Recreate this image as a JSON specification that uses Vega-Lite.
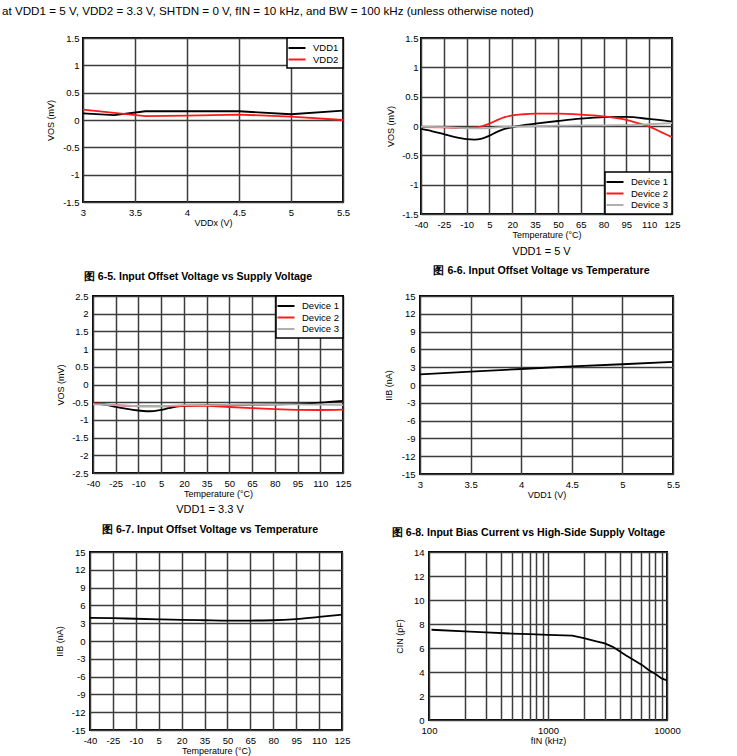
{
  "$schema": "https://vega.github.io/schema/vega-lite/v6.json",
  "background": "white",
  "padding": {"left": 2, "top": 6, "right": 0, "bottom": 0},
  "title": {"text": "at VDD1 = 5 V, VDD2 = 3.3 V, SHTDN = 0 V, fIN = 10 kHz, and BW = 100 kHz (unless otherwise noted)", "anchor": "start", "frame": "bounds", "dx": -28, "offset": 14, "fontSize": 11.65, "fontWeight": "normal", "color": "black"},
  "spacing": 6,
  "resolve": {"scale": {"color": "independent"}, "legend": {"color": "independent"}},
  "datasets": {
    "none": [],
    "p1": [
      {"vdd": 3, "vos": 0.12, "s": "VDD1"}, {"vdd": 3.3, "vos": 0.09, "s": "VDD1"}, {"vdd": 3.6, "vos": 0.16, "s": "VDD1"}, {"vdd": 4, "vos": 0.16, "s": "VDD1"}, {"vdd": 4.5, "vos": 0.16, "s": "VDD1"}, {"vdd": 5, "vos": 0.105, "s": "VDD1"}, {"vdd": 5.5, "vos": 0.17, "s": "VDD1"},
      {"vdd": 3, "vos": 0.19, "s": "VDD2"}, {"vdd": 3.3, "vos": 0.13, "s": "VDD2"}, {"vdd": 3.6, "vos": 0.07, "s": "VDD2"}, {"vdd": 4, "vos": 0.08, "s": "VDD2"}, {"vdd": 4.5, "vos": 0.1, "s": "VDD2"}, {"vdd": 5, "vos": 0.06, "s": "VDD2"}, {"vdd": 5.5, "vos": 0.0, "s": "VDD2"}
    ],
    "p2": [
      {"t": -40, "vos": -0.05, "d": "Device 1"}, {"t": -32.5, "vos": -0.09, "d": "Device 1"}, {"t": -25, "vos": -0.14, "d": "Device 1"}, {"t": -17.5, "vos": -0.19, "d": "Device 1"}, {"t": -10, "vos": -0.225, "d": "Device 1"}, {"t": -5, "vos": -0.232, "d": "Device 1"}, {"t": 0, "vos": -0.215, "d": "Device 1"}, {"t": 5, "vos": -0.165, "d": "Device 1"}, {"t": 10, "vos": -0.1, "d": "Device 1"}, {"t": 15, "vos": -0.05, "d": "Device 1"}, {"t": 20, "vos": -0.02, "d": "Device 1"}, {"t": 27.5, "vos": 0.015, "d": "Device 1"}, {"t": 35, "vos": 0.04, "d": "Device 1"}, {"t": 50, "vos": 0.085, "d": "Device 1"}, {"t": 65, "vos": 0.125, "d": "Device 1"}, {"t": 80, "vos": 0.15, "d": "Device 1"}, {"t": 95, "vos": 0.155, "d": "Device 1"}, {"t": 110, "vos": 0.12, "d": "Device 1"}, {"t": 125, "vos": 0.075, "d": "Device 1"},
      {"t": -40, "vos": -0.02, "d": "Device 2"}, {"t": -25, "vos": -0.025, "d": "Device 2"}, {"t": -10, "vos": -0.035, "d": "Device 2"}, {"t": -5, "vos": -0.03, "d": "Device 2"}, {"t": 0, "vos": -0.005, "d": "Device 2"}, {"t": 5, "vos": 0.04, "d": "Device 2"}, {"t": 10, "vos": 0.1, "d": "Device 2"}, {"t": 15, "vos": 0.15, "d": "Device 2"}, {"t": 20, "vos": 0.18, "d": "Device 2"}, {"t": 27.5, "vos": 0.2, "d": "Device 2"}, {"t": 35, "vos": 0.21, "d": "Device 2"}, {"t": 50, "vos": 0.21, "d": "Device 2"}, {"t": 65, "vos": 0.195, "d": "Device 2"}, {"t": 80, "vos": 0.165, "d": "Device 2"}, {"t": 87.5, "vos": 0.14, "d": "Device 2"}, {"t": 95, "vos": 0.105, "d": "Device 2"}, {"t": 102.5, "vos": 0.05, "d": "Device 2"}, {"t": 110, "vos": -0.01, "d": "Device 2"}, {"t": 117.5, "vos": -0.1, "d": "Device 2"}, {"t": 125, "vos": -0.19, "d": "Device 2"},
      {"t": -40, "vos": -0.01, "d": "Device 3"}, {"t": -25, "vos": -0.02, "d": "Device 3"}, {"t": -10, "vos": -0.04, "d": "Device 3"}, {"t": 0, "vos": -0.04, "d": "Device 3"}, {"t": 5, "vos": -0.035, "d": "Device 3"}, {"t": 10, "vos": -0.025, "d": "Device 3"}, {"t": 20, "vos": -0.01, "d": "Device 3"}, {"t": 35, "vos": 0.0, "d": "Device 3"}, {"t": 50, "vos": 0.005, "d": "Device 3"}, {"t": 65, "vos": 0.01, "d": "Device 3"}, {"t": 80, "vos": 0.012, "d": "Device 3"}, {"t": 95, "vos": 0.015, "d": "Device 3"}, {"t": 110, "vos": 0.03, "d": "Device 3"}, {"t": 125, "vos": 0.05, "d": "Device 3"}
    ],
    "p3": [
      {"t": -40, "vos": -0.52, "d": "Device 1"}, {"t": -32.5, "vos": -0.57, "d": "Device 1"}, {"t": -25, "vos": -0.63, "d": "Device 1"}, {"t": -17.5, "vos": -0.69, "d": "Device 1"}, {"t": -10, "vos": -0.735, "d": "Device 1"}, {"t": -5, "vos": -0.755, "d": "Device 1"}, {"t": 0, "vos": -0.75, "d": "Device 1"}, {"t": 5, "vos": -0.72, "d": "Device 1"}, {"t": 10, "vos": -0.67, "d": "Device 1"}, {"t": 15, "vos": -0.625, "d": "Device 1"}, {"t": 20, "vos": -0.6, "d": "Device 1"}, {"t": 35, "vos": -0.585, "d": "Device 1"}, {"t": 50, "vos": -0.575, "d": "Device 1"}, {"t": 65, "vos": -0.57, "d": "Device 1"}, {"t": 80, "vos": -0.56, "d": "Device 1"}, {"t": 95, "vos": -0.545, "d": "Device 1"}, {"t": 110, "vos": -0.51, "d": "Device 1"}, {"t": 125, "vos": -0.46, "d": "Device 1"},
      {"t": -40, "vos": -0.53, "d": "Device 2"}, {"t": -25, "vos": -0.585, "d": "Device 2"}, {"t": -10, "vos": -0.615, "d": "Device 2"}, {"t": 5, "vos": -0.62, "d": "Device 2"}, {"t": 20, "vos": -0.6, "d": "Device 2"}, {"t": 35, "vos": -0.605, "d": "Device 2"}, {"t": 50, "vos": -0.635, "d": "Device 2"}, {"t": 65, "vos": -0.665, "d": "Device 2"}, {"t": 80, "vos": -0.695, "d": "Device 2"}, {"t": 95, "vos": -0.715, "d": "Device 2"}, {"t": 110, "vos": -0.72, "d": "Device 2"}, {"t": 125, "vos": -0.71, "d": "Device 2"},
      {"t": -40, "vos": -0.56, "d": "Device 3"}, {"t": -25, "vos": -0.58, "d": "Device 3"}, {"t": -10, "vos": -0.61, "d": "Device 3"}, {"t": 5, "vos": -0.61, "d": "Device 3"}, {"t": 20, "vos": -0.585, "d": "Device 3"}, {"t": 35, "vos": -0.58, "d": "Device 3"}, {"t": 50, "vos": -0.575, "d": "Device 3"}, {"t": 65, "vos": -0.57, "d": "Device 3"}, {"t": 80, "vos": -0.565, "d": "Device 3"}, {"t": 95, "vos": -0.56, "d": "Device 3"}, {"t": 110, "vos": -0.57, "d": "Device 3"}, {"t": 125, "vos": -0.585, "d": "Device 3"}
    ],
    "p4": [
      {"vdd": 3, "iib": 1.8}, {"vdd": 3.5, "iib": 2.25}, {"vdd": 4, "iib": 2.7}, {"vdd": 4.5, "iib": 3.15}, {"vdd": 5, "iib": 3.5}, {"vdd": 5.5, "iib": 3.9}
    ],
    "p5": [
      {"t": -40, "iib": 3.9}, {"t": -25, "iib": 3.85}, {"t": -10, "iib": 3.75}, {"t": 5, "iib": 3.65}, {"t": 20, "iib": 3.55}, {"t": 35, "iib": 3.5}, {"t": 50, "iib": 3.45}, {"t": 65, "iib": 3.45}, {"t": 80, "iib": 3.5}, {"t": 95, "iib": 3.7}, {"t": 110, "iib": 4.05}, {"t": 125, "iib": 4.45}
    ],
    "p6": [
      {"f": 105, "cin": 7.52}, {"f": 200, "cin": 7.38}, {"f": 300, "cin": 7.3}, {"f": 500, "cin": 7.2}, {"f": 700, "cin": 7.15}, {"f": 1000, "cin": 7.1}, {"f": 1600, "cin": 7.03}, {"f": 2000, "cin": 6.82}, {"f": 2500, "cin": 6.58}, {"f": 3000, "cin": 6.38}, {"f": 3500, "cin": 6.1}, {"f": 4500, "cin": 5.4}, {"f": 5000, "cin": 5.13}, {"f": 6200, "cin": 4.57}, {"f": 7000, "cin": 4.16}, {"f": 8000, "cin": 3.83}, {"f": 9000, "cin": 3.47}, {"f": 10000, "cin": 3.3}
    ]
  },
  "vconcat": [
    {
      "spacing": 0,
      "resolve": {"scale": {"color": "independent"}, "legend": {"color": "independent"}},
      "hconcat": [
        {"width": 1, "height": 1, "data": {"name": "none"}, "mark": "point", "view": {"stroke": null, "fill": "transparent"}},
        {
          "width": 260, "height": 164,
          "data": {"name": "p1"},
          "mark": {"type": "line", "strokeWidth": 1.8},
          "encoding": {
            "x": {"field": "vdd", "type": "quantitative", "scale": {"domain": [3, 5.5], "nice": false, "zero": false},
                  "axis": {"values": [3, 3.5, 4, 4.5, 5, 5.5], "format": ".2~f", "title": "VDDx (V)"}},
            "y": {"field": "vos", "type": "quantitative", "scale": {"domain": [-1.5, 1.5], "nice": false},
                  "axis": {"values": [-1.5, -1, -0.5, 0, 0.5, 1, 1.5], "format": ".2~f", "labelExpr": "replace(datum.label, '−', '-')", "title": "VOS (mV)", "tickSize": 50, "labelPadding": -46, "titleX": -28, "titleY": 82}},
            "color": {"field": "s", "type": "nominal", "scale": {"domain": ["VDD1", "VDD2"], "range": ["#000000", "#ff1a1a"]}, "legend": {"title": null, "orient": "top-right"}}
          },
          "title": {"text": "图 6-5. Input Offset Voltage vs Supply Voltage", "orient": "bottom", "anchor": "middle", "frame": "group", "dx": -15, "offset": 44}
        },
        {
          "width": 251, "height": 176,
          "data": {"name": "p2"},
          "mark": {"type": "line", "strokeWidth": 1.8, "interpolate": "monotone"},
          "encoding": {
            "x": {"field": "t", "type": "quantitative", "scale": {"domain": [-40, 125], "nice": false, "zero": false},
                  "axis": {"values": [-40, -25, -10, 5, 20, 35, 50, 65, 80, 95, 110, 125], "format": ".2~f", "labelExpr": "replace(datum.label, '−', '-')", "title": "Temperature (°C)"}},
            "y": {"field": "vos", "type": "quantitative", "scale": {"domain": [-1.5, 1.5], "nice": false},
                  "axis": {"values": [-1.5, -1, -0.5, 0, 0.5, 1, 1.5], "format": ".2~f", "labelExpr": "replace(datum.label, '−', '-')", "title": "VOS (mV)", "tickSize": 68, "labelPadding": -65, "titleX": -26, "titleY": 88}},
            "color": {"field": "d", "type": "nominal", "scale": {"domain": ["Device 1", "Device 2", "Device 3"], "range": ["#000000", "#ff1a1a", "#b0b0b0"]}, "legend": {"title": null, "orient": "bottom-right"}}
          },
          "title": {"text": "VDD1 = 5 V", "subtitle": "图 6-6. Input Offset Voltage vs Temperature         ", "orient": "bottom", "anchor": "middle", "frame": "group", "dx": -5, "offset": 6, "fontSize": 11, "fontWeight": "normal", "subtitleFontSize": 10.6, "subtitleFontWeight": "bold", "subtitleColor": "black", "subtitlePadding": 9, "subtitleFont": "Liberation Sans"}
        }
      ]
    },
    {
      "spacing": 0,
      "resolve": {"scale": {"color": "independent"}, "legend": {"color": "independent"}},
      "hconcat": [
        {"width": 1, "height": 1, "data": {"name": "none"}, "mark": "point", "view": {"stroke": null, "fill": "transparent"}},
        {
          "width": 250, "height": 177,
          "data": {"name": "p3"},
          "mark": {"type": "line", "strokeWidth": 1.8, "interpolate": "monotone"},
          "encoding": {
            "x": {"field": "t", "type": "quantitative", "scale": {"domain": [-40, 125], "nice": false, "zero": false},
                  "axis": {"values": [-40, -25, -10, 5, 20, 35, 50, 65, 80, 95, 110, 125], "format": ".2~f", "labelExpr": "replace(datum.label, '−', '-')", "title": "Temperature (°C)"}},
            "y": {"field": "vos", "type": "quantitative", "scale": {"domain": [-2.5, 2.5], "nice": false},
                  "axis": {"values": [-2.5, -2, -1.5, -1, -0.5, 0, 0.5, 1, 1.5, 2, 2.5], "format": ".2~f", "labelExpr": "replace(datum.label, '−', '-')", "title": "VOS (mV)", "tickSize": 60, "labelPadding": -55, "titleX": -28, "titleY": 88.5}},
            "color": {"field": "d", "type": "nominal", "scale": {"domain": ["Device 1", "Device 2", "Device 3"], "range": ["#000000", "#ff1a1a", "#b0b0b0"]}, "legend": {"title": null, "orient": "top-right"}}
          },
          "title": {"text": "VDD1 = 3.3 V", "subtitle": "图 6-7. Input Offset Voltage vs Temperature        ", "orient": "bottom", "anchor": "middle", "frame": "group", "dx": -8, "offset": 5, "fontSize": 11, "fontWeight": "normal", "subtitleFontSize": 10.6, "subtitleFontWeight": "bold", "subtitleColor": "black", "subtitlePadding": 10, "subtitleFont": "Liberation Sans"}
        },
        {
          "width": 253, "height": 178,
          "data": {"name": "p4"},
          "mark": {"type": "line", "strokeWidth": 1.8, "color": "black"},
          "encoding": {
            "x": {"field": "vdd", "type": "quantitative", "scale": {"domain": [3, 5.5], "nice": false, "zero": false},
                  "axis": {"values": [3, 3.5, 4, 4.5, 5, 5.5], "format": ".2~f", "title": "VDD1 (V)"}},
            "y": {"field": "iib", "type": "quantitative", "scale": {"domain": [-15, 15], "nice": false},
                  "axis": {"values": [-15, -12, -9, -6, -3, 0, 3, 6, 9, 12, 15], "format": ".2~f", "labelExpr": "replace(datum.label, '−', '-')", "title": "IIB (nA)", "tickSize": 66, "labelPadding": -61, "titleX": -27, "titleY": 89}}
          },
          "title": {"text": "图 6-8. Input Bias Current vs High-Side Supply Voltage", "orient": "bottom", "anchor": "middle", "frame": "group", "dx": -18, "offset": 28}
        }
      ]
    },
    {
      "spacing": 0,
      "resolve": {"scale": {"color": "independent"}, "legend": {"color": "independent"}},
      "hconcat": [
        {"width": 1, "height": 1, "data": {"name": "none"}, "mark": "point", "view": {"stroke": null, "fill": "transparent"}},
        {
          "width": 252, "height": 178,
          "data": {"name": "p5"},
          "mark": {"type": "line", "strokeWidth": 1.8, "color": "black", "interpolate": "monotone"},
          "encoding": {
            "x": {"field": "t", "type": "quantitative", "scale": {"domain": [-40, 125], "nice": false, "zero": false},
                  "axis": {"values": [-40, -25, -10, 5, 20, 35, 50, 65, 80, 95, 110, 125], "format": ".2~f", "labelExpr": "replace(datum.label, '−', '-')", "title": "Temperature (°C)"}},
            "y": {"field": "iib", "type": "quantitative", "scale": {"domain": [-15, 15], "nice": false},
                  "axis": {"values": [-15, -12, -9, -6, -3, 0, 3, 6, 9, 12, 15], "format": ".2~f", "labelExpr": "replace(datum.label, '−', '-')", "title": "IIB (nA)", "tickSize": 57, "labelPadding": -52, "titleX": -26, "titleY": 89}}
          }
        },
        {
          "width": 238, "height": 168,
          "data": {"name": "p6"},
          "mark": {"type": "line", "strokeWidth": 1.8, "color": "black"},
          "encoding": {
            "x": {"field": "f", "type": "quantitative", "scale": {"type": "log", "domain": [100, 10000], "nice": false},
                  "axis": {"values": [100, 200, 300, 400, 500, 600, 700, 800, 900, 1000, 2000, 3000, 4000, 5000, 6000, 7000, 8000, 9000, 10000], "format": "d", "labelExpr": "(datum.value == 100 || datum.value == 1000 || datum.value == 10000) ? datum.label : ''", "title": "fIN (kHz)"}},
            "y": {"field": "cin", "type": "quantitative", "scale": {"domain": [0, 14], "nice": false},
                  "axis": {"values": [0, 2, 4, 6, 8, 10, 12, 14], "format": ".2~f", "title": "CIN (pF)", "tickSize": 76, "labelPadding": -71, "titleX": -25, "titleY": 84}}
          }
        }
      ]
    }
  ],
  "config": {
    "font": "Liberation Sans",
    "view": {"stroke": "black", "strokeWidth": 2},
    "axis": {"labelFontSize": 9.5, "labelColor": "black", "labelFont": "Liberation Sans", "titleFont": "Liberation Sans", "titleFontSize": 9, "titleFontWeight": "normal", "titleColor": "black", "gridColor": "#3c3c3c", "gridWidth": 1.5, "domain": false, "labelFlush": false},
    "axisX": {"ticks": false, "labelPadding": 5, "titlePadding": 2, "labelOverlap": false},
    "axisY": {"ticks": true, "tickColor": "transparent", "labelOverlap": false},
    "legend": {"offset": 0, "strokeColor": "black", "strokeWidth": 1.5, "fillColor": "white", "padding": 4, "labelFontSize": 9.5, "labelColor": "black", "labelFont": "Liberation Sans", "symbolType": "M-1.7,0L1.7,0", "symbolSize": 100, "symbolStrokeWidth": 2, "labelOffset": 10, "rowPadding": 0.5},
    "title": {"font": "Liberation Sans", "fontSize": 10.6, "fontWeight": "bold", "color": "black"}
  }
}
